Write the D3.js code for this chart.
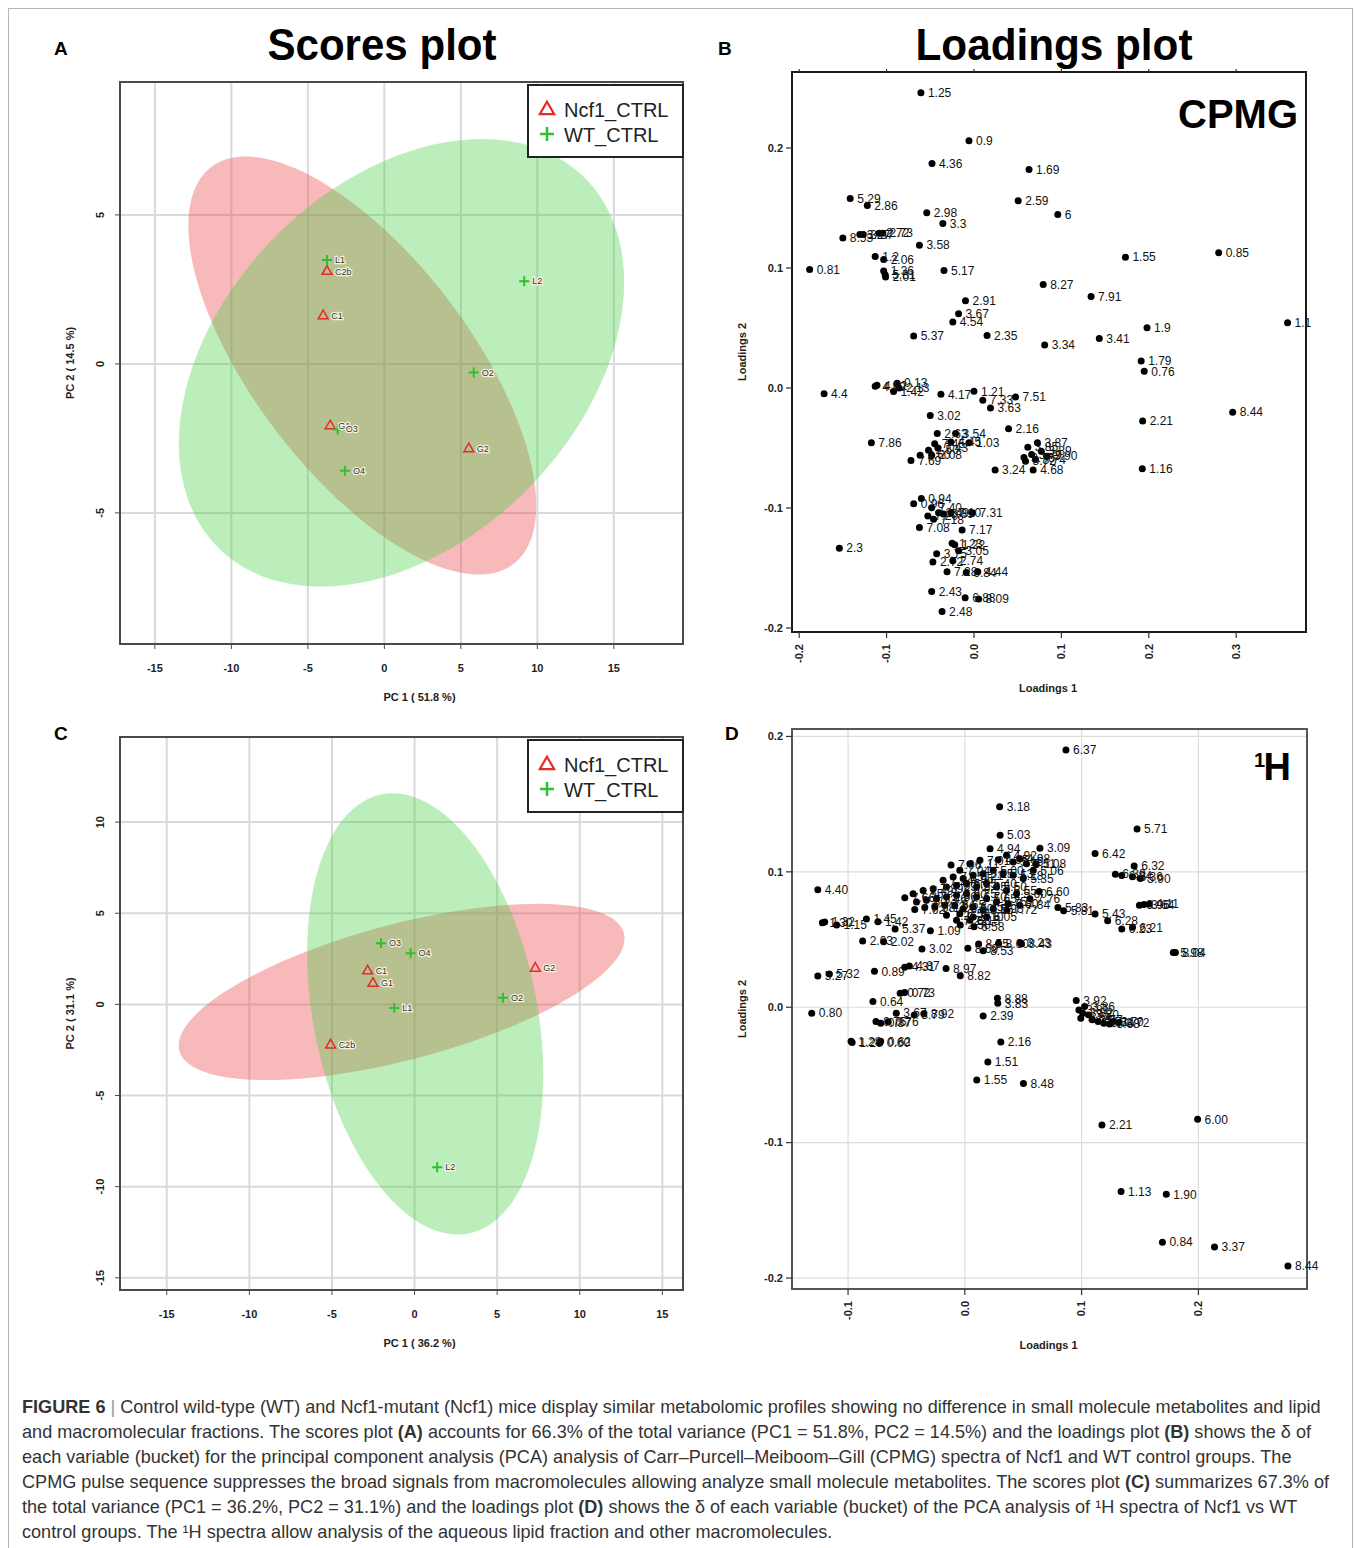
<!DOCTYPE html>
<html>
<head>
<meta charset="utf-8">
<script src="https://cdn.jsdelivr.net/npm/d3@7"></script>
<style>
  body { margin: 0; background: #fff; }
  text { font-family: "Liberation Sans", Arial, sans-serif; }
</style>
</head>
<body>
<svg id="fig"></svg>
<script>
// ---- data ----
var groups = ["Ncf1_CTRL", "WT_CTRL"];

// panel A scores (PC1, PC2)
var scoresA_ncf1 = [["C2b", -3.75, 3.10], ["C1", -4.0, 1.61], ["G1", -3.54, -2.08], ["G2", 5.52, -2.85]];
var scoresA_wt = [["L1", -3.75, 3.49], ["L2", 9.14, 2.77], ["O2", 5.84, -0.29], ["O3", -3.05, -2.20], ["O4", -2.58, -3.59]];

// panel C scores
var scoresC_ncf1 = [["C1", -2.84, 1.83], ["G1", -2.52, 1.15], ["G2", 7.31, 1.98], ["C2b", -5.08, -2.23]];
var scoresC_wt = [["O3", -2.03, 3.35], ["O4", -0.24, 2.81], ["L1", -1.23, -0.20], ["O2", 5.35, 0.36], ["L2", 1.37, -8.94]];

var scoreTicks = [-15, -10, -5, 0, 5, 10, 15];
var scoreYTicksA = [-5, 0, 5];
var scoreYTicksC = [-15, -10, -5, 0, 5, 10];

// panel B loadings (CPMG)
var loadingsB = [
  ["1.25",-0.0607,0.246],["0.9",-0.0057,0.206],["4.36",-0.048,0.187],["1.69",0.063,0.182],
  ["5.29",-0.1416,0.158],["2.86",-0.122,0.152],["2.59",0.0506,0.156],["2.98",-0.054,0.146],
  ["6",0.0959,0.1445],["3.3",-0.0356,0.137],["8.53",-0.150,0.125],["3.27",-0.1306,0.128],
  ["3.37",-0.1266,0.128],["2.72",-0.1086,0.129],["2.73",-0.1047,0.129],["3.58",-0.0624,0.119],
  ["1.55",0.1733,0.109],["0.85",0.280,0.1126],["1.2",-0.113,0.1096],["2.06",-0.1033,0.107],
  ["0.81",-0.188,0.0988],["5.17",-0.0343,0.098],["1.36",-0.1033,0.0974],["5.81",-0.1016,0.0943],
  ["2.01",-0.1011,0.0924],["8.27",0.0792,0.0863],["7.91",0.134,0.0763],["2.91",-0.0097,0.0727],
  ["3.67",-0.0176,0.0619],["4.54",-0.0242,0.0549],["1.1",0.3588,0.0544],["1.9",0.198,0.0502],
  ["5.37",-0.069,0.0433],["2.35",0.015,0.0438],["3.34",0.0809,0.0358],["3.41",0.1434,0.0413],
  ["1.79",0.1913,0.0225],["0.76",0.1948,0.0139],["4.4",-0.1715,-0.0047],["4.80",-0.113,0.0014],
  ["4.02",-0.111,0.0022],["0.13",-0.088,0.004],["2.13",-0.0858,0.0],["1.42",-0.092,-0.003],
  ["4.17",-0.0378,-0.0053],["1.21",0.0,-0.0028],["7.33",0.0101,-0.0102],["7.51",0.0475,-0.0075],
  ["3.63",0.0189,-0.0166],["8.44",0.296,-0.0202],["3.02",-0.050,-0.023],["2.21",0.193,-0.0274],
  ["2.16",0.0396,-0.034],["2.63",-0.042,-0.038],["3.54",-0.021,-0.038],["1.03",-0.0057,-0.0457],
  ["7.86",-0.1174,-0.0457],["7.45",-0.0449,-0.0465],["4.45",-0.0264,-0.045],["7.69",-0.0721,-0.0604],
  ["2.60",-0.0616,-0.056],["2.50",-0.052,-0.0518],["2.08",-0.0484,-0.056],["7.43",-0.0413,-0.050],
  ["3.87",0.0726,-0.0457],["3.85",0.0616,-0.0493],["3.76",0.0572,-0.058],["3.72",0.059,-0.061],
  ["3.79",0.066,-0.0554],["3.89",0.077,-0.0526],["3.90",0.0836,-0.0568],["3.74",0.0704,-0.0596],
  ["4.68",0.0677,-0.0684],["3.24",0.0242,-0.0684],["1.16",0.1926,-0.0673],["0.94",-0.0602,-0.092],
  ["0.96",-0.069,-0.0964],["7.40",-0.0484,-0.0997],["7.20",-0.0528,-0.1066],["2.49",-0.0405,-0.1039],
  ["6.89",-0.035,-0.105],["7.10",-0.0264,-0.1039],["7.18",-0.0462,-0.1094],["7.31",-0.0018,-0.1039],
  ["7.08",-0.0624,-0.1163],["7.17",-0.0136,-0.1183],["1.23",-0.025,-0.1294],["1.22",-0.022,-0.1305],
  ["3.75",-0.0427,-0.1382],["3.05",-0.0176,-0.1357],["2.72",-0.047,-0.1449],["2.74",-0.0242,-0.1440],
  ["7.28",-0.0308,-0.1532],["6.84",-0.0088,-0.1537],["4.44",0.0044,-0.1532],["2.43",-0.0484,-0.1695],
  ["6.88",-0.0101,-0.1748],["8.09",0.0053,-0.1759],["2.48",-0.0365,-0.1862],["2.3",-0.154,-0.1335]
];

// panel D loadings (1H)
var loadingsD = [
  ["6.37",0.0866,0.19],["3.18",0.0298,0.148],["5.71",0.1475,0.1317],["5.03",0.0302,0.127],
  ["4.94",0.0216,0.117],["3.09",0.0643,0.1174],["6.42",0.1115,0.1135],["7.06",-0.0118,0.105],
  ["5.08",0.0607,0.106],["6.32",0.145,0.1044],["6.30",0.1289,0.0983],["6.34",0.1344,0.0973],
  ["6.36",0.1436,0.0963],["5.90",0.1502,0.095],["4.40",-0.1259,0.0867],["6.60",0.0636,0.0855],
  ["7.04",-0.0043,0.1011],["7.11",0.0043,0.106],["7.01",0.0129,0.1085],["4.95",0.0286,0.109],
  ["4.92",0.0357,0.1122],["5.15",0.0414,0.1073],["4.98",0.0471,0.1097],["5.11",0.0528,0.106],
  ["5.06",0.0586,0.1011],["7.24",-0.0186,0.0937],["7.15",-0.01,0.0962],["6.95",-0.0014,0.095],
  ["5.21",0.0071,0.0974],["5.25",0.0157,0.0986],["5.00",0.0243,0.1011],["5.13",0.0328,0.0986],
  ["5.18",0.0414,0.0974],["5.35",0.05,0.095],["7.39",-0.0271,0.0876],["7.49",-0.0357,0.0863],
  ["7.55",-0.0443,0.0839],["7.66",-0.0514,0.0809],["7.29",-0.0157,0.0888],["6.90",-0.0071,0.09],
  ["6.85",0.0014,0.0913],["5.45",0.01,0.0888],["5.40",0.0186,0.0913],["5.50",0.0271,0.0888],
  ["5.55",0.0357,0.0863],["5.60",0.0443,0.0839],["7.76",0.0557,0.0802],["7.60",-0.0414,0.0777],
  ["7.53",-0.0329,0.079],["7.46",-0.0243,0.0802],["7.36",-0.0157,0.0814],["6.80",-0.0071,0.0827],
  ["6.75",0.0014,0.0839],["6.70",0.01,0.0814],["5.65",0.0186,0.0802],["5.75",0.0271,0.0777],
  ["7.80",0.0371,0.0765],["7.84",0.0471,0.0753],["7.62",-0.0429,0.0721],["7.58",-0.0343,0.0736],
  ["7.42",-0.0257,0.074],["7.34",-0.0171,0.0753],["6.65",-0.0086,0.0753],["6.50",-0.0014,0.0728],
  ["6.45",0.0071,0.074],["5.85",0.0157,0.0716],["5.95",0.0243,0.0728],["7.26",-0.0157,0.0679],
  ["6.55",-0.0043,0.0691],["6.10",0.0071,0.0667],["6.05",0.0186,0.0667],["7.22",-0.0071,0.0642],
  ["6.15",0.0043,0.0642],["7.72",0.036,0.0717],["5.83",0.0797,0.0737],["5.81",0.0846,0.0713],
  ["5.43",0.1115,0.0688],["6.28",0.1223,0.0639],["6.23",0.1344,0.0577],["6.21",0.1436,0.059],
  ["3.96",0.1495,0.0754],["3.64",0.1534,0.0759],["4.11",0.158,0.0762],["5.98",0.1785,0.0405],
  ["8.04",0.1803,0.0405],["1.30",-0.122,0.0624],["1.32",-0.12,0.0629],["1.15",-0.1098,0.0607],
  ["1.45",-0.0843,0.0651],["1.42",-0.0744,0.0631],["5.37",-0.0597,0.0577],["1.09",-0.0295,0.0565],
  ["2.58",-0.0039,0.0607],["6.58",0.0079,0.0595],["2.03",-0.0875,0.0489],["2.02",-0.0695,0.0484],
  ["3.02",-0.0367,0.043],["8.69",0.0026,0.0435],["8.55",0.0118,0.0467],["8.53",0.0157,0.0418],
  ["8.60",0.0289,0.0472],["3.23",0.0475,0.0477],["8.43",0.0485,0.0467],["4.87",-0.0475,0.0305],
  ["4.31",-0.0515,0.0295],["8.97",-0.0161,0.0287],["8.82",-0.0039,0.0233],["0.89",-0.0774,0.0265],
  ["5.27",-0.1259,0.0231],["5.32",-0.116,0.0246],["0.72",-0.0554,0.0103],["0.73",-0.0515,0.0108],
  ["0.64",-0.0787,0.0042],["0.80",-0.1311,-0.0044],["3.67",-0.0587,-0.0044],["3.79",-0.0433,-0.0057],
  ["8.92",-0.0351,-0.0049],["0.75",-0.0761,-0.0106],["0.87",-0.0721,-0.0118],["0.76",-0.0656,-0.0108],
  ["2.39",0.0157,-0.0064],["8.88",0.0279,0.0066],["3.83",0.0282,0.0029],["3.92",0.0954,0.0049],
  ["3.81",0.0977,-0.002],["3.82",0.101,-0.0044],["3.84",0.0993,-0.0081],["3.80",0.1059,-0.0057],
  ["3.77",0.1092,-0.0093],["3.71",0.1141,-0.0106],["3.74",0.119,-0.0118],["3.68",0.1239,-0.0123],
  ["3.70",0.1272,-0.0106],["3.72",0.1321,-0.0113],["3.86",0.1026,0.0005],["1.28",-0.0974,-0.0252],
  ["1.26",-0.0965,-0.026],["0.60",-0.0728,-0.0265],["0.62",-0.0721,-0.0252],["2.16",0.0308,-0.0257],
  ["1.51",0.0197,-0.0404],["1.55",0.0102,-0.0537],["8.48",0.0502,-0.0564],["2.21",0.1174,-0.087],
  ["6.00",0.1993,-0.0828],["1.13",0.1338,-0.136],["1.90",0.1725,-0.1382],["0.84",0.1692,-0.1735],
  ["3.37",0.2138,-0.177],["8.44",0.2767,-0.1912]
];

var loadTicksB_x = [-0.2, -0.1, 0.0, 0.1, 0.2, 0.3];
var loadTicksB_y = [-0.2, -0.1, 0.0, 0.1, 0.2];
var loadTicksD_x = [-0.1, 0.0, 0.1, 0.2];
var loadTicksD_y = [-0.2, -0.1, 0.0, 0.1, 0.2];

var captionLines = [
  [["FIGURE 6", "b"], [" | ", "s"], ["Control wild-type (WT) and Ncf1-mutant (Ncf1) mice display similar metabolomic profiles showing no difference in small molecule metabolites and lipid", "n"]],
  [["and macromolecular fractions. The scores plot ", "n"], ["(A)", "b"], [" accounts for 66.3% of the total variance (PC1 = 51.8%, PC2 = 14.5%) and the loadings plot ", "n"], ["(B)", "b"], [" shows the \u03b4 of", "n"]],
  [["each variable (bucket) for the principal component analysis (PCA) analysis of Carr\u2013Purcell\u2013Meiboom\u2013Gill (CPMG) spectra of Ncf1 and WT control groups. The", "n"]],
  [["CPMG pulse sequence suppresses the broad signals from macromolecules allowing analyze small molecule metabolites. The scores plot ", "n"], ["(C)", "b"], [" summarizes 67.3% of", "n"]],
  [["the total variance (PC1 = 36.2%, PC2 = 31.1%) and the loadings plot ", "n"], ["(D)", "b"], [" shows the \u03b4 of each variable (bucket) of the PCA analysis of \u00b9H spectra of Ncf1 vs WT", "n"]],
  [["control groups. The \u00b9H spectra allow analysis of the aqueous lipid fraction and other macromolecules.", "n"]]
];

// ---- drawing ----
var W = 1354, H = 1548;
var svg = d3.select("#fig").attr("width", W).attr("height", H);
svg.append("rect").attr("width", W).attr("height", H).attr("fill", "#fff");
svg.append("rect").attr("x", 8.5).attr("y", 8.5).attr("width", 1344).attr("height", 1570)
   .attr("fill", "none").attr("stroke", "#b5b5b5").attr("stroke-width", 1);

var red = "#e62a2a", green = "#2fbf2f";

// 95% confidence ellipse from sample covariance
function ellipsePts(pts) {
  var n = pts.length;
  var mx = d3.mean(pts, function(d) { return d[1]; });
  var my = d3.mean(pts, function(d) { return d[2]; });
  var sxx = 0, syy = 0, sxy = 0;
  pts.forEach(function(d) {
    sxx += (d[1]-mx)*(d[1]-mx); syy += (d[2]-my)*(d[2]-my); sxy += (d[1]-mx)*(d[2]-my);
  });
  sxx /= n-1; syy /= n-1; sxy /= n-1;
  var tr = sxx + syy, det = sxx*syy - sxy*sxy;
  var disc = Math.sqrt(tr*tr/4 - det);
  var l1 = tr/2 + disc, l2 = tr/2 - disc;
  var v1 = Math.abs(sxy) > 1e-12 ? [sxy, l1 - sxx] : [1, 0];
  var len = Math.hypot(v1[0], v1[1]);
  v1 = [v1[0]/len, v1[1]/len];
  var v2 = [-v1[1], v1[0]];
  var k = Math.sqrt(5.991);
  var out = [];
  for (var i = 0; i <= 120; i++) {
    var t = i / 120 * 2 * Math.PI;
    var a = k*Math.sqrt(l1)*Math.cos(t), b = k*Math.sqrt(l2)*Math.sin(t);
    out.push([mx + a*v1[0] + b*v2[0], my + a*v1[1] + b*v2[1]]);
  }
  return out;
}

function drawScores(cfg) {
  var g = svg.append("g");
  var x = d3.scaleLinear().domain(cfg.xDomain).range([cfg.left, cfg.right]);
  var y = d3.scaleLinear().domain(cfg.yDomain).range([cfg.bottom, cfg.top]);

  g.selectAll(".gx").data(cfg.xTicks).enter().append("line")
    .attr("x1", function(d) { return x(d); }).attr("x2", function(d) { return x(d); })
    .attr("y1", cfg.top).attr("y2", cfg.bottom)
    .attr("stroke", "#dadada").attr("stroke-width", 2);
  g.selectAll(".gy").data(cfg.yTicks).enter().append("line")
    .attr("x1", cfg.left).attr("x2", cfg.right)
    .attr("y1", function(d) { return y(d); }).attr("y2", function(d) { return y(d); })
    .attr("stroke", "#dadada").attr("stroke-width", 2);

  var line = d3.line().x(function(d) { return x(d[0]); }).y(function(d) { return y(d[1]); }).curve(d3.curveLinearClosed);
  g.append("path").attr("d", line(ellipsePts(cfg.ncf1))).attr("fill", "#ea4848").attr("fill-opacity", 0.38);
  g.append("path").attr("d", line(ellipsePts(cfg.wt))).attr("fill", "#44d044").attr("fill-opacity", 0.36);

  var tri = d3.symbol().type(d3.symbolTriangle).size(42);
  g.selectAll(".tri").data(cfg.ncf1).enter().append("path")
    .attr("d", tri).attr("transform", function(d) { return "translate(" + x(d[1]) + "," + y(d[2]) + ")"; })
    .attr("fill", "none").attr("stroke", red).attr("stroke-width", 1.5);
  g.selectAll(".plus").data(cfg.wt).enter().append("path")
    .attr("d", "M-5,0H5M0,-5V5").attr("transform", function(d) { return "translate(" + x(d[1]) + "," + y(d[2]) + ")"; })
    .attr("stroke", green).attr("stroke-width", 2);
  g.selectAll(".lab").data(cfg.ncf1.concat(cfg.wt)).enter().append("text")
    .attr("x", function(d) { return x(d[1]) + 8; }).attr("y", function(d) { return y(d[2]) + 3; })
    .attr("font-size", 9).attr("fill", "#333").attr("stroke", "#f4f2dc").attr("stroke-width", 2.5)
    .attr("paint-order", "stroke").text(function(d) { return d[0]; });

  g.append("rect").attr("x", cfg.left).attr("y", cfg.top).attr("width", cfg.right - cfg.left)
    .attr("height", cfg.bottom - cfg.top).attr("fill", "none").attr("stroke", "#4a4a4a").attr("stroke-width", 2);

  g.selectAll(".tx").data(cfg.xTicks).enter().append("line")
    .attr("x1", function(d) { return x(d); }).attr("x2", function(d) { return x(d); })
    .attr("y1", cfg.bottom).attr("y2", cfg.bottom + 5).attr("stroke", "#4a4a4a").attr("stroke-width", 1);
  g.selectAll(".ty").data(cfg.yTicks).enter().append("line")
    .attr("x1", cfg.left - 5).attr("x2", cfg.left)
    .attr("y1", function(d) { return y(d); }).attr("y2", function(d) { return y(d); })
    .attr("stroke", "#4a4a4a").attr("stroke-width", 1);
  g.selectAll(".xl").data(cfg.xTicks).enter().append("text")
    .attr("x", function(d) { return x(d); }).attr("y", cfg.bottom + 28)
    .attr("text-anchor", "middle").attr("font-size", 11).attr("font-weight", "bold").attr("fill", "#222")
    .text(function(d) { return d; });
  g.selectAll(".yl").data(cfg.yTicks).enter().append("text")
    .attr("transform", function(d) { return "translate(" + (cfg.left - 16) + "," + y(d) + ") rotate(-90)"; })
    .attr("text-anchor", "middle").attr("font-size", 11).attr("font-weight", "bold").attr("fill", "#222")
    .text(function(d) { return d; });
  g.append("text").attr("x", (cfg.left + cfg.right) / 2 + 18).attr("y", cfg.bottom + 57)
    .attr("text-anchor", "middle").attr("font-size", 11).attr("font-weight", "bold").attr("fill", "#222")
    .text(cfg.xTitle);
  g.append("text").attr("transform", "translate(" + (cfg.left - 46) + "," + ((cfg.top + cfg.bottom) / 2) + ") rotate(-90)")
    .attr("text-anchor", "middle").attr("font-size", 11).attr("font-weight", "bold").attr("fill", "#222")
    .text(cfg.yTitle);

  // legend
  var lg = g.append("g");
  lg.append("rect").attr("x", cfg.right - 155).attr("y", cfg.top + 3).attr("width", 155).attr("height", 72)
    .attr("fill", "#fff").attr("stroke", "#222").attr("stroke-width", 2);
  var big = d3.symbol().type(d3.symbolTriangle).size(90);
  lg.append("path").attr("d", big).attr("transform", "translate(" + (cfg.right - 136) + "," + (cfg.top + 28) + ")")
    .attr("fill", "none").attr("stroke", red).attr("stroke-width", 2.2);
  lg.append("path").attr("d", "M-7,0H7M0,-7V7").attr("transform", "translate(" + (cfg.right - 136) + "," + (cfg.top + 52) + ")")
    .attr("stroke", green).attr("stroke-width", 2.5);
  lg.selectAll(".lt").data(groups).enter().append("text")
    .attr("x", cfg.right - 119).attr("y", function(d, i) { return cfg.top + 35 + i * 24.5; })
    .attr("font-size", 20).attr("fill", "#222").text(function(d) { return d; });
}

function drawLoadings(cfg) {
  var g = svg.append("g");
  var x = d3.scaleLinear().domain(cfg.xDomain).range([cfg.left, cfg.right]);
  var y = d3.scaleLinear().domain(cfg.yDomain).range([cfg.bottom, cfg.top]);

  if (cfg.grid) {
    g.selectAll(".gx").data(cfg.xTicks).enter().append("line")
      .attr("x1", function(d) { return x(d); }).attr("x2", function(d) { return x(d); })
      .attr("y1", cfg.top).attr("y2", cfg.bottom).attr("stroke", "#dcdcdc").attr("stroke-width", 1.2);
    g.selectAll(".gy").data(cfg.yTicks).enter().append("line")
      .attr("x1", cfg.left).attr("x2", cfg.right)
      .attr("y1", function(d) { return y(d); }).attr("y2", function(d) { return y(d); })
      .attr("stroke", "#dcdcdc").attr("stroke-width", 1.2);
  }
  g.append("rect").attr("x", cfg.left).attr("y", cfg.top).attr("width", cfg.right - cfg.left)
    .attr("height", cfg.bottom - cfg.top).attr("fill", "none").attr("stroke", cfg.frame).attr("stroke-width", 2);

  g.selectAll(".tx").data(cfg.xTicks).enter().append("line")
    .attr("x1", function(d) { return x(d); }).attr("x2", function(d) { return x(d); })
    .attr("y1", cfg.bottom).attr("y2", cfg.bottom + 6).attr("stroke", "#333").attr("stroke-width", 1.2);
  if (cfg.topTicks) {
    g.selectAll(".tt").data(cfg.xTicks).enter().append("line")
      .attr("x1", function(d) { return x(d); }).attr("x2", function(d) { return x(d); })
      .attr("y1", cfg.top).attr("y2", cfg.top - 3).attr("stroke", "#333").attr("stroke-width", 1.2);
  }
  g.selectAll(".ty").data(cfg.yTicks).enter().append("line")
    .attr("x1", cfg.left - 6).attr("x2", cfg.left)
    .attr("y1", function(d) { return y(d); }).attr("y2", function(d) { return y(d); })
    .attr("stroke", "#333").attr("stroke-width", 1.2);
  g.selectAll(".xl").data(cfg.xTicks).enter().append("text")
    .attr("transform", function(d) { return "translate(" + x(d) + "," + (cfg.bottom + 12) + ") rotate(-90)"; })
    .attr("text-anchor", "end").attr("dy", "0.35em").attr("font-size", 11).attr("font-weight", "bold").attr("fill", "#222")
    .text(function(d) { return d3.format(".1f")(d).replace("\u2212", "-"); });
  g.selectAll(".yl").data(cfg.yTicks).enter().append("text")
    .attr("x", cfg.left - 9).attr("y", function(d) { return y(d); }).attr("dy", "0.35em")
    .attr("text-anchor", "end").attr("font-size", 11).attr("font-weight", "bold").attr("fill", "#222")
    .text(function(d) { return d3.format(".1f")(d).replace("\u2212", "-"); });
  g.append("text").attr("x", (cfg.left + cfg.right) / 2 - 1).attr("y", cfg.bottom + 60)
    .attr("text-anchor", "middle").attr("font-size", 11).attr("font-weight", "bold").attr("fill", "#222")
    .text("Loadings 1");
  g.append("text").attr("transform", "translate(" + (cfg.left - 46) + "," + ((cfg.top + cfg.bottom) / 2) + ") rotate(-90)")
    .attr("text-anchor", "middle").attr("font-size", 11).attr("font-weight", "bold").attr("fill", "#222")
    .text("Loadings 2");

  g.selectAll(".dot").data(cfg.pts).enter().append("circle")
    .attr("cx", function(d) { return x(d[1]); }).attr("cy", function(d) { return y(d[2]); })
    .attr("r", 3.5).attr("fill", "#000");
  g.selectAll(".pl").data(cfg.pts).enter().append("text")
    .attr("x", function(d) { return x(d[1]) + 7; }).attr("y", function(d) { return y(d[2]); }).attr("dy", "0.35em")
    .attr("font-size", 12).attr("fill", "#111").text(function(d) { return d[0]; });
}

drawScores({
  left: 120, right: 683, top: 82, bottom: 644,
  xDomain: [-17.28, 19.52], yDomain: [-9.40, 9.46],
  xTicks: scoreTicks, yTicks: scoreYTicksA,
  ncf1: scoresA_ncf1, wt: scoresA_wt,
  xTitle: "PC 1 ( 51.8 %)", yTitle: "PC 2 ( 14.5 %)"
});
drawScores({
  left: 120, right: 683, top: 737, bottom: 1290,
  xDomain: [-17.83, 16.25], yDomain: [-15.67, 14.67],
  xTicks: scoreTicks, yTicks: scoreYTicksC,
  ncf1: scoresC_ncf1, wt: scoresC_wt,
  xTitle: "PC 1 ( 36.2 %)", yTitle: "PC 2 ( 31.1 %)"
});
drawLoadings({
  left: 792, right: 1306, top: 72, bottom: 632,
  xDomain: [-0.2082, 0.3799], yDomain: [-0.2033, 0.2633],
  xTicks: loadTicksB_x, yTicks: loadTicksB_y, pts: loadingsB,
  grid: false, topTicks: true, frame: "#1a1a1a"
});
drawLoadings({
  left: 792, right: 1307, top: 729, bottom: 1289,
  xDomain: [-0.148, 0.293], yDomain: [-0.2081, 0.2055],
  xTicks: loadTicksD_x, yTicks: loadTicksD_y, pts: loadingsD,
  grid: true, topTicks: false, frame: "#555"
});

// titles and panel letters
function title(txt, cx, len) {
  svg.append("text").attr("x", cx).attr("y", 60).attr("text-anchor", "middle")
    .attr("font-family", "'Liberation Sans Narrow', 'DejaVu Sans Condensed', sans-serif")
    .attr("font-size", 45).attr("font-weight", "bold").attr("fill", "#000")
    .attr("textLength", len).attr("lengthAdjust", "spacingAndGlyphs").text(txt);
}
title("Scores plot", 382, 229);
title("Loadings plot", 1054, 277);
[["A", 54, 55], ["B", 718, 55], ["C", 54, 740], ["D", 725, 740]].forEach(function(p) {
  svg.append("text").attr("x", p[1]).attr("y", p[2]).attr("font-size", 19).attr("font-weight", "bold")
    .attr("fill", "#000").text(p[0]);
});
svg.append("text").attr("x", 1298).attr("y", 128).attr("text-anchor", "end").attr("font-size", 40)
  .attr("font-weight", "bold").attr("fill", "#000").text("CPMG");
svg.append("text").attr("x", 1254).attr("y", 767).attr("font-size", 20).attr("font-weight", "bold").text("1");
svg.append("text").attr("x", 1291).attr("y", 780).attr("text-anchor", "end").attr("font-size", 38)
  .attr("font-weight", "bold").text("H");

// caption
var cap = svg.append("g");
captionLines.forEach(function(line, i) {
  var t = cap.append("text").attr("x", 22).attr("y", 1413 + i * 25).attr("font-size", 18.1).attr("fill", "#333");
  line.forEach(function(seg) {
    t.append("tspan").attr("font-weight", seg[1] === "b" ? "bold" : "normal")
      .attr("fill", seg[1] === "s" ? "#999" : null).text(seg[0]);
  });
});
</script>
</body>
</html>
